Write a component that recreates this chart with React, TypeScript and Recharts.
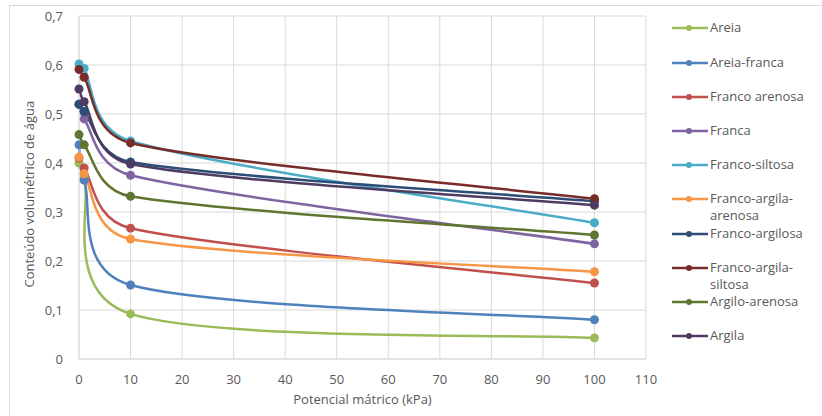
import React from "react";
import {
  CartesianGrid,
  Line,
  LineChart,
  XAxis,
  YAxis,
} from "recharts";

// matric potential (kPa) where each texture was measured
const potentials = [0, 1, 10, 100];

const texturas = [
  "Areia",
  "Areia-franca",
  "Franco arenosa",
  "Franca",
  "Franco-siltosa",
  "Franco-argila-arenosa",
  "Franco-argilosa",
  "Franco-argila-siltosa",
  "Argilo-arenosa",
  "Argila",
];

const areia = [0.4, 0.37, 0.092, 0.043];
const areiaFranca = [0.437, 0.365, 0.151, 0.08];
const francoArenosa = [0.41, 0.39, 0.267, 0.155];
const franca = [0.52, 0.49, 0.375, 0.235];
const francoSiltosa = [0.602, 0.593, 0.445, 0.278];
const francoArgilaArenosa = [0.412, 0.378, 0.245, 0.178];
const francoArgilosa = [0.52, 0.505, 0.402, 0.322];
const francoArgilaSiltosa = [0.591, 0.575, 0.441, 0.327];
const argiloArenosa = [0.458, 0.437, 0.332, 0.253];
const argila = [0.551, 0.525, 0.398, 0.314];

const seriesValues = [
  areia,
  areiaFranca,
  francoArenosa,
  franca,
  francoSiltosa,
  francoArgilaArenosa,
  francoArgilosa,
  francoArgilaSiltosa,
  argiloArenosa,
  argila,
];

const colors = [
  "#9BBB59",
  "#4F81BD",
  "#C0504D",
  "#8064A2",
  "#4BACC6",
  "#F79646",
  "#2C4D75",
  "#772C2A",
  "#5F7530",
  "#4D3B62",
];

const xTicks = [0, 10, 20, 30, 40, 50, 60, 70, 80, 90, 100, 110];
const yTicks = [0, 0.1, 0.2, 0.3, 0.4, 0.5, 0.6, 0.7];

const data = potentials.map((p, i) => {
  const row: Record<string, number> = { potencial: p };
  texturas.forEach((t, s) => {
    row[t] = seriesValues[s][i];
  });
  return row;
});

const TEXT = "#595959";
const FONT = "'Open Sans', sans-serif";

// excel-like smoothing: catmull-rom bezier, control arm capped at half the segment
function excelCurve(context: any) {
  let pts: number[][] = [];
  const cap = (v: number[], max: number) => {
    const len = Math.hypot(v[0], v[1]);
    if (len <= max || len === 0) return v;
    return [(v[0] * max) / len, (v[1] * max) / len];
  };
  return {
    areaStart() {},
    areaEnd() {},
    lineStart() {
      pts = [];
    },
    point(x: number, y: number) {
      pts.push([+x, +y]);
    },
    lineEnd() {
      const n = pts.length;
      if (!n) return;
      context.moveTo(pts[0][0], pts[0][1]);
      for (let i = 0; i < n - 1; i++) {
        const p0 = pts[Math.max(i - 1, 0)];
        const p1 = pts[i];
        const p2 = pts[i + 1];
        const p3 = pts[Math.min(i + 2, n - 1)];
        const seg = Math.hypot(p2[0] - p1[0], p2[1] - p1[1]);
        const c1 = cap([(p2[0] - p0[0]) / 6, (p2[1] - p0[1]) / 6], seg / 2);
        const c2 = cap([(p3[0] - p1[0]) / 6, (p3[1] - p1[1]) / 6], seg / 2);
        context.bezierCurveTo(
          p1[0] + c1[0],
          p1[1] + c1[1],
          p2[0] - c2[0],
          p2[1] - c2[1],
          p2[0],
          p2[1]
        );
      }
    },
  };
}

function legendLines(name: string) {
  if (name.startsWith("Franco-argila-")) {
    return ["Franco-argila-", name.slice("Franco-argila-".length)];
  }
  return [name];
}

function SoilLegend() {
  return (
    <div style={{ position: "absolute", left: 670, top: 0, width: 150, height: 360 }}>
      {texturas.map((t, i) => {
        const cy = 28.3 + 34.2 * i;
        return (
          <div
            key={t}
            style={{ position: "absolute", left: 0, top: cy - 9, display: "flex" }}
          >
            <svg width={40} height={18} style={{ flex: "none" }}>
              <line x1={2} y1={9} x2={38} y2={9} stroke={colors[i]} strokeWidth={2.5} />
              <circle cx={19} cy={9} r={3} fill={colors[i]} />
            </svg>
            <div
              style={{
                fontFamily: FONT,
                fontSize: 13,
                lineHeight: "17px",
                color: TEXT,
                whiteSpace: "nowrap",
              }}
            >
              {legendLines(t).map((l) => (
                <div key={l}>{l}</div>
              ))}
            </div>
          </div>
        );
      })}
    </div>
  );
}

export default function App() {
  return (
    <div
      style={{
        position: "relative",
        width: 822,
        height: 416,
        overflow: "hidden",
        background: "#fff",
      }}
    >
      <style>{"body{margin:0}"}</style>
      <div
        style={{
          position: "absolute",
          left: 9,
          top: 5,
          width: 900,
          height: 500,
          border: "1px solid #d9d9d9",
        }}
      />
      <div style={{ position: "absolute", left: 0, top: 0 }}>
        <LineChart
          width={822}
          height={416}
          data={data}
          margin={{ top: 16, right: 176, bottom: 0, left: 0 }}
        >
          <CartesianGrid stroke="#d9d9d9" strokeWidth={1} />
          <XAxis
            type="number"
            dataKey="potencial"
            domain={[0, 110]}
            ticks={xTicks}
            interval={0}
            height={57}
            tickLine={false}
            axisLine={{ stroke: "#d9d9d9" }}
            tickMargin={10}
            tick={{ fill: TEXT, fontSize: 13, fontFamily: FONT }}
            label={{
              value: "Potencial mátrico (kPa)",
              position: "insideBottom",
              offset: 12,
              fill: TEXT,
              fontSize: 13,
              fontFamily: FONT,
            }}
          />
          <YAxis
            type="number"
            domain={[0, 0.7]}
            ticks={yTicks}
            interval={0}
            width={79}
            tickLine={false}
            axisLine={{ stroke: "#d9d9d9" }}
            tickMargin={10}
            tick={{ fill: TEXT, fontSize: 13, fontFamily: FONT }}
            tickFormatter={(v: number) =>
              v === 0 ? "0" : v.toFixed(1).replace(".", ",")
            }
            label={{
              value: "Conteúdo volumétrico de água",
              angle: -90,
              position: "insideLeft",
              offset: 29,
              dy: 100,
              fill: TEXT,
              fontSize: 13,
              fontFamily: FONT,
            }}
          />
          {texturas.map((t, i) => (
            <Line
              key={t}
              dataKey={t}
              name={t}
              type={excelCurve as any}
              stroke={colors[i]}
              strokeWidth={2.5}
              dot={{ r: 4.5, fill: colors[i], stroke: colors[i], strokeWidth: 0 }}
              activeDot={false}
              isAnimationActive={false}
            />
          ))}
        </LineChart>
      </div>
      <SoilLegend />
    </div>
  );
}
